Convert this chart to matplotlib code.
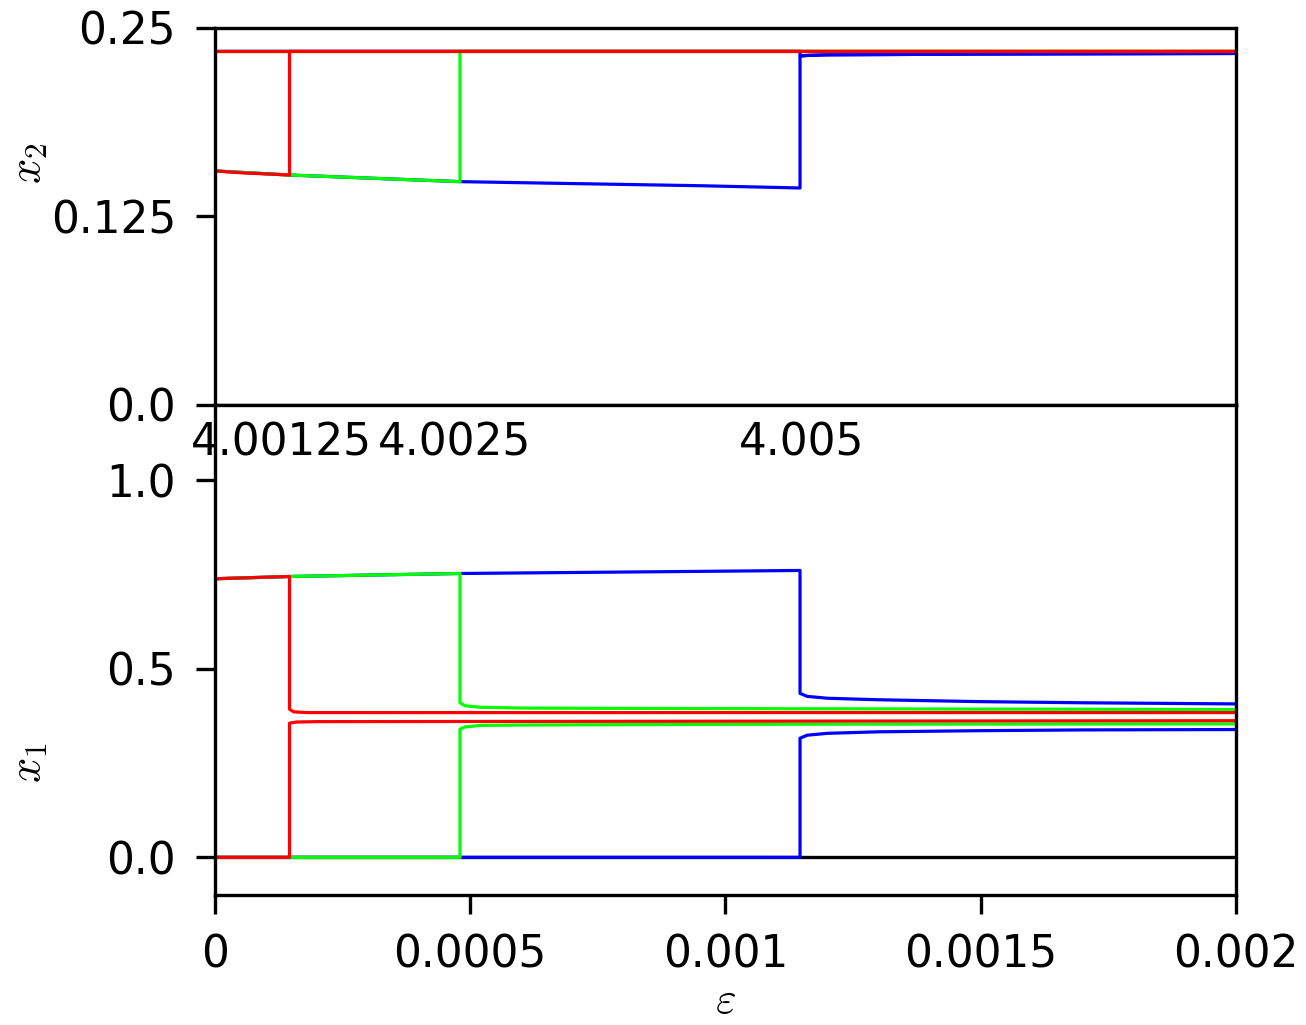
import matplotlib
matplotlib.use("Agg")
import matplotlib.pyplot as plt

plt.rcParams['font.family'] = ['DejaVu Sans']
plt.rcParams['mathtext.fontset'] = 'cm'
plt.rcParams['font.size'] = 31.5

# parameter values shown above each switch, and where the text sits
r_labels = ['4.00125', '4.0025', '4.005']
r_label_x = [0.00013, 0.00047, 0.00115]

x_ticks = [0, 0.0005, 0.001, 0.0015, 0.002]
x_ticklabels = ['0', '0.0005', '0.001', '0.0015', '0.002']
x2_ticks = [0.0, 0.125, 0.25]
x2_ticklabels = ['0.0', '0.125', '0.25']
x1_ticks = [0.0, 0.5, 1.0]
x1_ticklabels = ['0.0', '0.5', '1.0']

# blue (r = 4.005)
blue_x2_lo_eps = [0, 0.000146, 0.00048, 0.00067, 0.00095, 0.001146, 0.001146, 0.00116, 0.0012, 0.0015, 0.002]
blue_x2_lo = [0.1552, 0.1525, 0.1481, 0.1470, 0.1454, 0.1439, 0.2314, 0.2318, 0.2322, 0.2327, 0.2331]
blue_x2_hi_eps = [0, 0.001146, 0.001146, 0.00116, 0.0012, 0.0015, 0.002]
blue_x2_hi = [0.2345, 0.2345, 0.2314, 0.2318, 0.2322, 0.2327, 0.2331]
blue_x1_hi_eps = [0, 0.000146, 0.00048, 0.00095, 0.001146, 0.001146, 0.00116, 0.0012, 0.0013, 0.0015, 0.0017, 0.002]
blue_x1_hi = [0.739, 0.745, 0.753, 0.7586, 0.761, 0.435, 0.427, 0.422, 0.418, 0.413, 0.410, 0.407]
blue_x1_lo_eps = [0, 0.001146, 0.001146, 0.00116, 0.0012, 0.0013, 0.0015, 0.0017, 0.002]
blue_x1_lo = [0, 0, 0.316, 0.324, 0.329, 0.333, 0.336, 0.338, 0.339]

# green (r = 4.0025)
green_x2_lo_eps = [0, 0.000146, 0.00048, 0.00048, 0.002]
green_x2_lo = [0.1552, 0.1525, 0.1481, 0.2345, 0.2345]
green_x2_hi_eps = [0, 0.002]
green_x2_hi = [0.2345, 0.2345]
green_x1_hi_eps = [0, 0.000146, 0.00048, 0.00048, 0.00049, 0.00052, 0.0006, 0.0008, 0.0012, 0.002]
green_x1_hi = [0.739, 0.745, 0.753, 0.410, 0.402, 0.398, 0.396, 0.395, 0.394, 0.392]
green_x1_lo_eps = [0, 0.00048, 0.00048, 0.00049, 0.00052, 0.0006, 0.001, 0.002]
green_x1_lo = [0, 0, 0.340, 0.346, 0.350, 0.351, 0.353, 0.354]

# red (r = 4.00125)
red_x2_lo_eps = [0, 0.00005, 0.000146, 0.000146, 0.002]
red_x2_lo = [0.1552, 0.1540, 0.1525, 0.2345, 0.2345]
red_x2_hi_eps = [0, 0.002]
red_x2_hi = [0.2345, 0.2345]
red_x1_hi_eps = [0, 0.000146, 0.000146, 0.000154, 0.00018, 0.0003, 0.002]
red_x1_hi = [0.739, 0.745, 0.393, 0.386, 0.384, 0.384, 0.384]
red_x1_lo_eps = [0, 0.000146, 0.000146, 0.00016, 0.0002, 0.002]
red_x1_lo = [0, 0, 0.356, 0.359, 0.360, 0.3625]

series = [
    ('#0000ff', blue_x2_lo_eps, blue_x2_lo, blue_x2_hi_eps, blue_x2_hi,
     blue_x1_hi_eps, blue_x1_hi, blue_x1_lo_eps, blue_x1_lo),
    ('#00ff00', green_x2_lo_eps, green_x2_lo, green_x2_hi_eps, green_x2_hi,
     green_x1_hi_eps, green_x1_hi, green_x1_lo_eps, green_x1_lo),
    ('#ff0000', red_x2_lo_eps, red_x2_lo, red_x2_hi_eps, red_x2_hi,
     red_x1_hi_eps, red_x1_hi, red_x1_lo_eps, red_x1_lo),
]

fig = plt.figure(figsize=(13.06, 10.25), dpi=100)
ax2 = fig.add_axes([0.1646, 0.6049, 0.7818, 0.3678])
ax1 = fig.add_axes([0.1646, 0.1268, 0.7818, 0.4781], sharex=ax2)

ax1.axhline(0, color='black', lw=2.4, zorder=1)

for c, e2l, v2l, e2h, v2h, e1h, v1h, e1l, v1l in series:
    ax2.plot(e2l, v2l, color=c, lw=2.3, zorder=2)
    ax2.plot(e2h, v2h, color=c, lw=2.3, zorder=2)
    ax1.plot(e1h, v1h, color=c, lw=2.3, zorder=2)
    ax1.plot(e1l, v1l, color=c, lw=2.3, zorder=2)

for lab, xpos in zip(r_labels, r_label_x):
    ax1.text(xpos, 1.1, lab, ha='center', va='center', fontsize=31.5)

ax2.set_xlim(0, 0.002)
ax2.set_ylim(0, 0.25)
ax1.set_ylim(-0.1, 1.2)

ax2.set_yticks(x2_ticks)
ax2.set_yticklabels(x2_ticklabels)
ax1.set_yticks(x1_ticks)
ax1.set_yticklabels(x1_ticklabels)
ax1.set_xticks(x_ticks)
ax1.set_xticklabels(x_ticklabels)

ax2.tick_params(axis='x', which='both', bottom=False, labelbottom=False)
for ax in (ax1, ax2):
    ax.tick_params(axis='y', direction='out', length=14, width=2.4, pad=14)
    ax.tick_params(axis='x', direction='out', length=14, width=2.4, pad=14)
    for s in ax.spines.values():
        s.set_linewidth(2.4)

ax2.set_ylabel(r'$x_2$', fontsize=32)
ax2.yaxis.set_label_coords(-0.162, 0.64)
ax1.set_ylabel(r'$x_1$', fontsize=32)
ax1.yaxis.set_label_coords(-0.162, 0.27)
ax1.set_xlabel(r'$\varepsilon$', fontsize=32, va='center')
ax1.xaxis.set_label_coords(0.5, -0.215)

fig.savefig('out.png', dpi=100)
